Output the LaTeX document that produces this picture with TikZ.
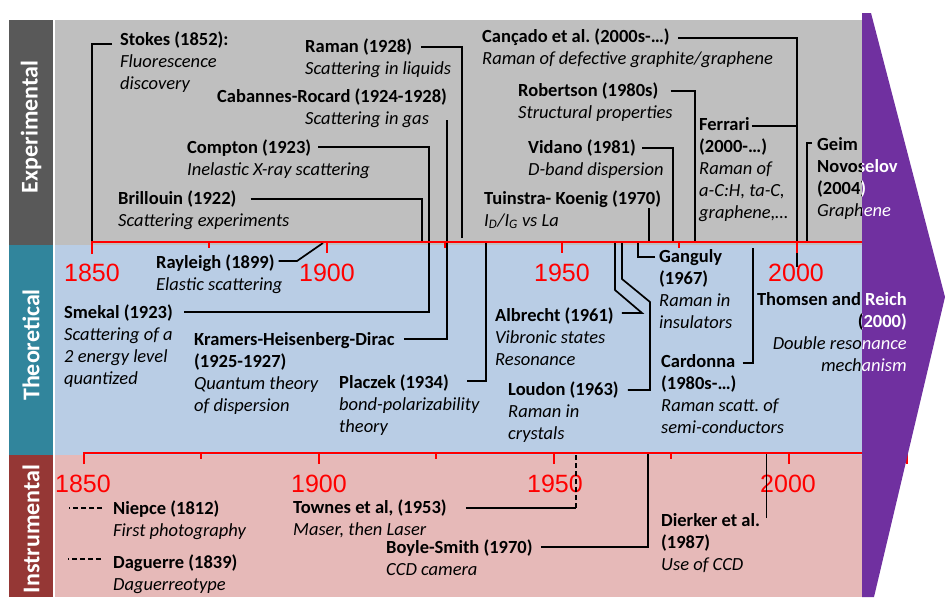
\documentclass[tikz,border=0pt]{standalone}
\usepackage{fontspec}
\setmainfont{Carlito}
\newfontfamily\yearfont{Liberation Sans}
\usetikzlibrary{calc}
\frenchspacing
\definecolor{expS}{HTML}{595959}
\definecolor{expB}{HTML}{BFBFBF}
\definecolor{theS}{HTML}{31859C}
\definecolor{theB}{HTML}{B9CDE5}
\definecolor{insS}{HTML}{953735}
\definecolor{insB}{HTML}{E6B9B8}
\definecolor{purp}{HTML}{7030A0}
\newcommand\bodyfont{\fontsize{18.5}{22}\selectfont}
\newcommand\tb[1]{\begin{tabular}[t]{@{}l@{}}#1\end{tabular}}
\newcommand\tbr[1]{\begin{tabular}[t]{@{}r@{}}#1\end{tabular}}
\newcommand\purplepath{(862,13) -- (871,13) -- (945,297) -- (874,597) -- (862,597) -- cycle}
\tikzset{
  ttl/.style={anchor=base west, inner sep=0pt, font=\bodyfont\bfseries},
  dsc/.style={anchor=base west, inner sep=0pt, font=\bodyfont\itshape},
  conn/.style={draw=black, line width=1.7pt},
  dconn/.style={draw=black, line width=1.7pt, dash pattern=on 5pt off 3pt},
  tl/.style={draw=red, line width=2pt},
  yr/.style={text=red, font=\yearfont\fontsize{25}{25}\selectfont, anchor=base, inner sep=0pt},
  lab/.style={text=white, rotate=90, font=\fontsize{24}{24}\selectfont\bfseries, inner sep=0pt}
}
\begin{document}
\begin{tikzpicture}[x=1pt,y=-1pt]
\useasboundingbox (0,0) rectangle (945,597);
% bands
\fill[expS] (9,19.5) rectangle (53,245);
\fill[expB] (54.5,19.5) rectangle (870,245);
\fill[theS] (9,245) rectangle (53,455);
\fill[theB] (54.5,245) rectangle (870,455);
\fill[insS] (9,455) rectangle (53,597);
\fill[insB] (54.5,455) rectangle (870,597);
\node[lab] (labE) at (31,127) {Experimental};
\node[lab] (labT) at (31,345) {Theoretical};
\node[lab] (labI) at (31,529) {Instrumental};
% year labels
\node[yr] (u1850) at (92,281) {1850};
\node[yr] (u1900) at (327,281) {1900};
\node[yr] (u1950) at (562,281) {1950};
\node[yr] (u2000) at (796,281) {2000};
\node[yr] (l1850) at (83,492) {1850};
\node[yr] (l1900) at (319,492) {1900};
\node[yr] (l1950) at (555,492) {1950};
\node[yr] (l2000) at (788,492) {2000};
% experimental texts
\node[ttl] (stokes) at (120,45) {Stokes (1852):};
\node[dsc] (stokesd) at (120,67) {\tb{Fluorescence\\discovery}};
\node[ttl] (raman) at (305,52) {Raman (1928)};
\node[dsc] (ramand) at (305,74) {Scattering in liquids};
\node[ttl] (cabannes) at (217,102) {Cabannes-Rocard (1924-1928)};
\node[dsc] (cabannesd) at (305,124) {Scattering in gas};
\node[ttl] (compton) at (187,153) {Compton (1923)};
\node[dsc] (comptond) at (187,175) {Inelastic X-ray scattering};
\node[ttl] (brillouin) at (118,204) {Brillouin (1922)};
\node[dsc] (brillouind) at (118,226) {Scattering experiments};
\node[ttl] (cancado) at (482,42) {Cançado et al. (2000s-…)};
\node[dsc] (cancadod) at (482,64) {Raman of defective graphite/graphene};
\node[ttl] (robertson) at (518,96) {Robertson (1980s)};
\node[dsc] (robertsond) at (518,118) {Structural properties};
\node[ttl] (vidano) at (528,153) {Vidano (1981)};
\node[dsc] (vidanod) at (528,175) {D-band dispersion};
\node[ttl] (tuinstra) at (484,204) {Tuinstra- Koenig (1970)};
\node[dsc] (tuinstrad) at (484,226) {I\textsubscript{D}/I\textsubscript{G} vs La};
\node[ttl] (ferrari) at (699,130) {Ferrari};
\node[dsc] (ferrarid) at (699,152) {\tb{{\bfseries\upshape (2000-…)}\\Raman of\\a-C:H, ta-C,\\graphene,…}};
\node[ttl] (geim) at (817,150) {Geim};
\node[dsc] (geimd) at (817,172) {\tb{{\bfseries\upshape Novoselov}\\{\bfseries\upshape (2004)}\\Graphene}};
% theoretical texts
\node[ttl] (rayleigh) at (156,268) {Rayleigh (1899)};
\node[dsc] (rayleighd) at (156,290) {Elastic scattering};
\node[ttl] (smekal) at (64,318) {Smekal (1923)};
\node[dsc] (smekald) at (64,340) {\tb{Scattering of a\\2 energy level\\quantized}};
\node[ttl] (kramers) at (194,345) {Kramers-Heisenberg-Dirac};
\node[dsc] (kramersd) at (194,367) {\tb{{\bfseries\upshape (1925-1927)}\\Quantum theory\\of dispersion}};
\node[ttl] (placzek) at (339,388) {Placzek (1934)};
\node[dsc] (placzekd) at (339,410) {\tb{bond-polarizability\\theory}};
\node[ttl] (albrecht) at (495,321) {Albrecht (1961)};
\node[dsc] (albrechtd) at (495,343) {\tb{Vibronic states\\Resonance}};
\node[ttl] (loudon) at (508,395) {Loudon (1963)};
\node[dsc] (loudond) at (508,417) {\tb{Raman in\\crystals}};
\node[ttl] (ganguly) at (659,262) {Ganguly};
\node[dsc] (gangulyd) at (659,284) {\tb{{\bfseries\upshape (1967)}\\Raman in\\insulators}};
\node[ttl] (cardonna) at (661,367) {Cardonna};
\node[dsc] (cardonnad) at (661,389) {\tb{{\bfseries\upshape (1980s-…)}\\Raman scatt. of\\semi-conductors}};
\node[dsc, anchor=base east] (thomsen) at (907,305) {\tbr{{\bfseries\upshape Thomsen and Reich}\\{\bfseries\upshape (2000)}\\Double resonance\\mechanism}};
% instrumental texts
\node[ttl] (niepce) at (113,514) {Niepce (1812)};
\node[dsc] (niepced) at (113,536) {First photography};
\node[ttl] (daguerre) at (113,568) {Daguerre (1839)};
\node[dsc] (daguerred) at (113,590) {Daguerreotype};
\node[ttl] (townes) at (293,513) {Townes et al, (1953)};
\node[dsc] (townesd) at (293,535) {Maser, then Laser};
\node[ttl] (boyle) at (386,553) {Boyle-Smith (1970)};
\node[dsc] (boyled) at (386,575) {CCD camera};
\node[ttl] (dierker) at (661,526) {Dierker et al.};
\node[dsc] (dierkerd) at (661,548) {\tb{{\bfseries\upshape (1987)}\\Use of CCD}};
% connectors
\coordinate (lowtl) at (0,453);
\draw[conn] ($(stokes.base west)+(-8,-1)$) -| (92,242);
\draw[conn] ($(raman.base east)+(9,-5)$) -| (462,238);
\draw[conn] ($(kramers.base east)+(9,-6)$) -| (447,120);
\draw[conn] ($(compton.base east)+(7,-6)$) -| (429,312) -- ($(smekal.base east)+(11,-6)$);
\draw[conn] ($(brillouin.base east)+(14,-5)$) -| (422,242);
\draw[conn] ($(rayleigh.base east)+(4,-7)$) -- (297,261) -- (323,243);
\draw[conn] ($(placzek.base east)+(18,-7)$) -| (486,242);
\draw[conn] ($(cancado.base east)+(8,-4)$) -| (797,267);
\draw[conn] ($(ferrari.base east)+(2,-4)$) -- (797,126);
\draw[conn] ($(robertson.base east)+(12,-5)$) -| (695,242);
\draw[conn] ($(vidano.base east)+(6,-5)$) -| (673,242);
\draw[conn] ($(tuinstra.base east)+(-12,4)$) -- +(0,34);
\draw[conn] ($(geim.base west)+(-5,-7)$) -| (807,242);
\draw[conn] ($(ganguly.base west)+(-4,-5)$) -| (638,242);
\draw[conn] ($(albrecht.base east)+(8,-8)$) -- (642,313) -- (615,290) -- (615,242);
\draw[conn] ($(loudon.base east)+(9,-5)$) -- (650,390) -- (650,302) -- (622,279) -- (622,242);
\draw[conn] ($(cardonna.base east)+(7,-4)$) -| (753,248);
\draw[dconn] ($(niepce.base west)+(-11,-6)$) -- +(-33,0);
\draw[dconn] ($(daguerre.base west)+(-12,-9)$) -- +(-33,0);
\draw[conn] ($(townes.base east)+(19,-5)$) -- (576,508);
\draw[dconn] (576,508) -- (576,453);
\draw[conn] ($(boyle.base east)+(8,-6)$) -| (648,453);
\coordinate (dk) at ($(dierker.base east)+(6,-8)$);
\draw[conn] (dk) -- (dk |- lowtl);
% timelines
\draw[tl] (92,254) -- (92,242) -- (915,242) -- (915,254);
\foreach \x in {327,562,797} \draw[tl] (\x,242) -- (\x,253);
\foreach \x in {209,445,679} \draw[tl] (\x,242) -- (\x,248);
\draw[tl] (84,464) -- (84,453) -- (907,453) -- (907,464);
\foreach \x in {319,554,789} \draw[tl] (\x,453) -- (\x,464);
\foreach \x in {201,436,671} \draw[tl] (\x,453) -- (\x,459);
% purple arrow
\fill[purp] \purplepath;
\begin{scope}
\clip \purplepath;
\node[ttl, text=white] (geimW) at (817,150) {Geim};
\node[dsc, text=white] (geimdW) at (817,172) {\tb{{\bfseries\upshape Novoselov}\\{\bfseries\upshape (2004)}\\Graphene}};
\node[dsc, anchor=base east, text=white] (thomsenW) at (907,305) {\tbr{{\bfseries\upshape Thomsen and Reich}\\{\bfseries\upshape (2000)}\\Double resonance\\mechanism}};
\end{scope}
\end{tikzpicture}
\end{document}
